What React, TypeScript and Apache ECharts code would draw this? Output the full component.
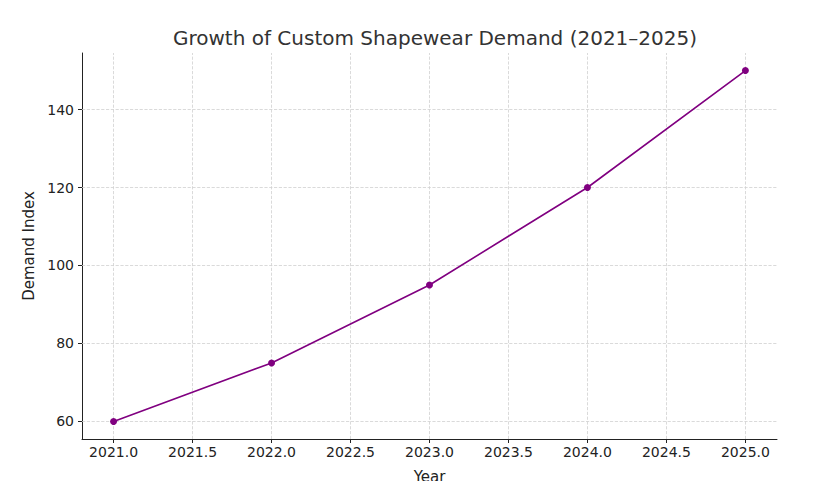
import React, { useEffect, useRef } from "react";
import * as echarts from "echarts";

const years = [2021, 2022, 2023, 2024, 2025];
const demand = [60, 75, 95, 120, 150];
const xTicks = [2021, 2021.5, 2022, 2022.5, 2023, 2023.5, 2024, 2024.5, 2025];
const yTicks = [60, 80, 100, 120, 140];

export default function App() {
  const ref = useRef<HTMLDivElement>(null);
  useEffect(() => {
    const chart = echarts.init(ref.current!, null, { renderer: "svg" });
    const font = "DejaVu Sans";
    const grid = { type: "dashed", color: "#d0d0d0", width: 0.8 };
    chart.setOption({
      animation: false,
      textStyle: { fontFamily: font },
      title: {
        text: "Growth of Custom Shapewear Demand (2021\u20132025)",
        left: 422, top: 15, textAlign: "center",
        textStyle: { fontFamily: font, fontSize: 20, fontWeight: "normal", color: "#333" },
      },
      grid: { left: 74, right: 47, top: 45, bottom: 42 },
      xAxis: {
        type: "value", min: 2020.8, max: 2025.2,
        name: "Year", nameLocation: "middle", nameGap: 30,
        nameTextStyle: { fontSize: 15, color: "#222", fontFamily: font },
        axisLine: { show: true, lineStyle: { color: "#222", width: 1 } },
        axisTick: { show: true, customValues: xTicks, length: 4, lineStyle: { color: "#222" } },
        axisLabel: { customValues: xTicks, fontSize: 14, color: "#222", margin: 6,
          formatter: (v: number) => v.toFixed(1) },
        splitLine: { show: false },
      },
      yAxis: {
        type: "value", min: 55.5, max: 154.5,
        name: "Demand Index", nameLocation: "middle", nameGap: 46,
        nameTextStyle: { fontSize: 15, color: "#222", fontFamily: font },
        axisLine: { show: true, lineStyle: { color: "#222", width: 1 } },
        axisTick: { show: true, customValues: yTicks, length: 4, lineStyle: { color: "#222" } },
        axisLabel: { customValues: yTicks, fontSize: 14, color: "#222", margin: 8 },
        splitLine: { show: false },
      },
      series: [
        {
          type: "line",
          data: years.map((y, i) => [y, demand[i]]),
          color: "#800080",
          lineStyle: { width: 1.6, color: "#800080" },
          symbol: "circle", symbolSize: 7,
          itemStyle: { color: "#800080" },
          z: 5,
          markLine: {
            silent: true, symbol: "none", label: { show: false },
            lineStyle: grid, z: 1,
            data: [
              ...xTicks.map((v) => ({ xAxis: v })),
              ...yTicks.map((v) => ({ yAxis: v })),
            ],
          },
        },
      ],
    });
    return () => chart.dispose();
  }, []);
  return <div ref={ref} style={{ width: 816, height: 481 }} />;
}
